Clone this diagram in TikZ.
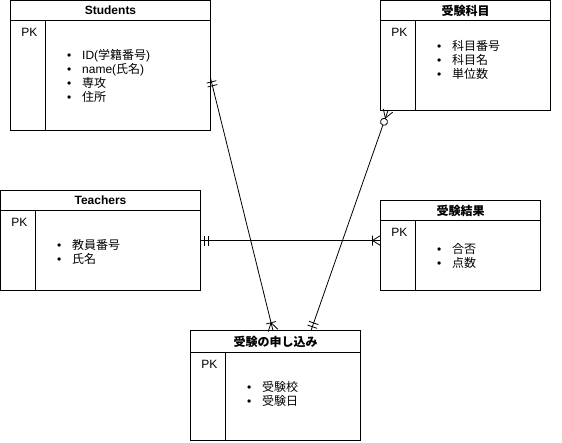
\documentclass[tikz,border=0pt]{standalone}
\usepackage{fontspec}
\setmainfont{Liberation Sans}
\newfontfamily\cjk{Noto Sans CJK JP}
\usetikzlibrary{calc, decorations.markings}

\newcommand{\attr}[1]{\makebox[15pt][l]{\textbullet}{#1}}

\tikzset{
  entity/.style={draw, line width=1pt, inner sep=0pt, outer sep=0pt, anchor=north west},
  enttitle/.style={font=\bfseries\fontsize{12}{14}\selectfont, inner sep=0pt},
  pk/.style={font=\fontsize{12}{14}\selectfont, inner sep=0pt, anchor=north east},
  attrs/.style={font=\fontsize{12}{14}\selectfont, inner sep=0pt, align=left, anchor=west},
  conn/.style={draw, line width=0.8pt},
  mandstart/.style={postaction={decorate, decoration={markings,
      mark=at position 4pt with {\draw[line width=0.8pt] (0pt,-5pt) -- (0pt,5pt);},
      mark=at position 8pt with {\draw[line width=0.8pt] (0pt,-5pt) -- (0pt,5pt);}}}},
  mandend/.style={postaction={decorate, decoration={markings,
      mark=at position -4pt with {\draw[line width=0.8pt] (0pt,-5pt) -- (0pt,5pt);},
      mark=at position -8pt with {\draw[line width=0.8pt] (0pt,-5pt) -- (0pt,5pt);}}}},
  manyend/.style={postaction={decorate, decoration={markings,
      mark=at position -8pt with {\draw[line width=0.8pt] (0pt,-5pt) -- (0pt,5pt)
        (0pt,0pt) -- (8pt,5pt) (0pt,0pt) -- (8pt,-5pt);}}}},
  zeromanystart/.style={postaction={decorate, decoration={markings,
      mark=at position 8pt with {\draw[line width=0.8pt] (0pt,0pt) -- (-8pt,5pt)
        (0pt,0pt) -- (-8pt,-5pt);},
      mark=at position 12pt with {\draw[line width=0.8pt, fill=white] (0pt,0pt) circle[radius=3.5pt];}}}}
}

\begin{document}
\begin{tikzpicture}[x=1pt, y=-1pt]
    \useasboundingbox (0,0) rectangle (562,442);
    % entities: name / x / y / width / height / title height / PK column / title
    \foreach \e/\x/\y/\w/\h/\th/\p/\ttl in {
        students/10.5/0.5/200/130/20/35/Students,
        kamoku/380.5/0.5/170/110/20/35/{\cjk 受験科目},
        teachers/0.5/190.5/200/100/20/35/Teachers,
        kekka/380.5/200.5/160/90/20/35/{\cjk 受験結果},
        moushikomi/190.5/330.5/170/110/22/35/{\cjk 受験の申し込み}} {
        \node[entity, minimum width=\w, minimum height=\h] (\e) at (\x,\y) {};
        \coordinate (\e-div) at ($(\e.north west)+(\p,\th)$);
        \draw[line width=1pt] ($(\e.north west)+(0,\th)$) -- ($(\e.north east)+(0,\th)$);
        \draw[line width=1.6pt] (\e-div) -- (\e-div |- \e.south);
        \node[enttitle] (\e-title) at ($(\e.north)+(0,\th/2)$) {\ttl};
        \node[pk] (\e-pk) at ($(\e-div)+(-8,7.5)$) {PK};
    }
    % attribute lists
    \foreach \e/\ly/\items in {
        students/55.5/{\attr{ID({\cjk 学籍番号})}\\\attr{name({\cjk 氏名})}\\\attr{\cjk 専攻}\\\attr{\cjk 住所}},
        kamoku/39/{\attr{\cjk 科目番号}\\\attr{\cjk 科目名}\\\attr{\cjk 単位数}},
        teachers/41/{\attr{\cjk 教員番号}\\\attr{\cjk 氏名}},
        kekka/35/{\attr{\cjk 合否}\\\attr{\cjk 点数}},
        moushikomi/41.5/{\attr{\cjk 受験校}\\\attr{\cjk 受験日}}} {
        \node[attrs] (\e-attrs) at ($(\e-div)+(21.5,\ly)$) {\items};
    }
    % relations
    \coordinate (s-end) at ([yshift=-12.5pt]students.east);
    \coordinate (k-end) at ([xshift=7.5pt]kamoku.south west);
    \coordinate (m-left) at ([xshift=-2.5pt]moushikomi.north);
    \coordinate (m-right) at ([xshift=35.5pt]moushikomi.north);
    \draw[conn, mandstart, manyend] (s-end) -- (m-left);
    \draw[conn, zeromanystart, mandend] (k-end) -- (m-right);
    \draw[conn, mandstart, manyend] (teachers.east) -- (teachers.east -| kekka.west);
\end{tikzpicture}
\end{document}
